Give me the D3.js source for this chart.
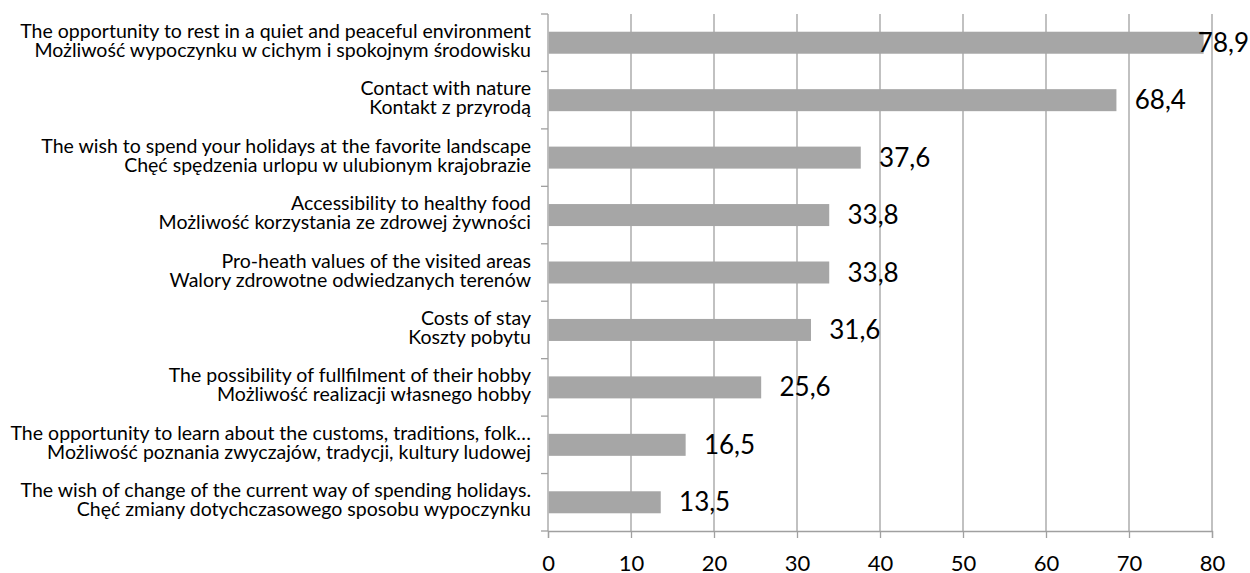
<!DOCTYPE html>
<html><head><meta charset="utf-8">
<script src="https://cdn.jsdelivr.net/npm/d3@7"></script>
<style>body{margin:0;background:#fff}svg{display:block}text{font-family:Lato,"Open Sans",sans-serif;fill:#000}</style>
</head><body>
<svg id="c" width="1250" height="573"></svg>
<script>
const labelsEn = [
 "The opportunity to rest in a quiet and peaceful environment",
 "Contact with nature",
 "The wish to spend your holidays at the favorite landscape",
 "Accessibility to healthy food",
 "Pro-heath values of the visited areas",
 "Costs of stay",
 "The possibility of fullfilment of their hobby",
 "The opportunity to learn about the customs, traditions, folk…",
 "The wish of change of the current way of spending holidays."
];
const labelsPl = [
 "Możliwość wypoczynku w cichym i spokojnym środowisku",
 "Kontakt z przyrodą",
 "Chęć spędzenia urlopu w ulubionym krajobrazie",
 "Możliwość korzystania ze zdrowej żywności",
 "Walory zdrowotne odwiedzanych terenów",
 "Koszty pobytu",
 "Możliwość realizacji własnego hobby",
 "Możliwość poznania zwyczajów, tradycji, kultury ludowej",
 "Chęć zmiany dotychczasowego sposobu wypoczynku"
];
const values = [78.9, 68.4, 37.6, 33.8, 33.8, 31.6, 25.6, 16.5, 13.5];
const xTicks = [0, 10, 20, 30, 40, 50, 60, 70, 80];

const svg = d3.select("#c");
const L = 548, R = 1212, T = 14, B = 531;
const x = d3.scaleLinear().domain([0, 80]).range([L, R]);
const idx = d3.range(values.length);
const p = 0.617;
const y = d3.scaleBand().domain(idx).range([T, B]).paddingInner(p).paddingOuter(p / 2);
const step = y.step();
const grid = "#a0a0a0";

// gridlines
svg.append("g").selectAll("line").data(xTicks.slice(1)).join("line")
  .attr("x1", d => x(d)).attr("x2", d => x(d)).attr("y1", T).attr("y2", B)
  .attr("stroke", grid).attr("stroke-width", 1.3);

// x axis
const xa = svg.append("g").attr("transform", `translate(0,${B})`)
  .call(d3.axisBottom(x).tickValues(xTicks).tickSize(7).tickPadding(17).tickFormat(d3.format("d")));
xa.select(".domain").attr("stroke", grid).attr("stroke-width", 1.3);
xa.selectAll(".tick line").attr("stroke", grid).attr("stroke-width", 1.3);
xa.selectAll(".tick text").attr("font-size", 22).attr("font-family", "Lato").attr("fill", "#000");

// y axis
svg.append("line").attr("x1", L).attr("x2", L).attr("y1", T).attr("y2", B)
  .attr("stroke", grid).attr("stroke-width", 1.3);
svg.append("g").selectAll("line").data(d3.range(values.length + 1)).join("line")
  .attr("x1", L - 7).attr("x2", L).attr("y1", i => T + i * step).attr("y2", i => T + i * step)
  .attr("stroke", grid).attr("stroke-width", 1.3);

// bars
svg.append("g").selectAll("rect").data(values).join("rect")
  .attr("x", x(0) + 0.7).attr("y", (d, i) => y(i))
  .attr("width", d => x(d) - x(0)).attr("height", y.bandwidth())
  .attr("fill", "#a6a6a6");

// category labels (one text element with two lines each)
const cat = svg.append("g").attr("font-size", 17.5).attr("text-anchor", "end");
idx.forEach(i => {
  const cy = y(i) + y.bandwidth() / 2;
  const t = cat.append("text").attr("x", 531).attr("y", cy - 5);
  t.append("tspan").attr("x", 531).text(labelsEn[i]);
  t.append("tspan").attr("x", 531).attr("dy", 19).text(labelsPl[i]);
});
// fit widths: longest first line spans ~511px
const t0 = cat.select("tspan").node();
const w0 = t0.getComputedTextLength();
cat.attr("font-size", 17.5 * 511 / w0);

// value labels
const vl = svg.append("g").attr("font-size", 26);
values.forEach((v, i) => {
  const t = vl.append("text").attr("y", y(i) + y.bandwidth() / 2).attr("dy", "0.35em")
    .text(d3.format(".1f")(v).replace(".", ","));
  const w = t.node().getComputedTextLength();
  let xs = x(v) + 19;
  if (xs + w > 1249) xs = 1249 - w;
  t.attr("x", xs);
});
</script>
</body></html>
